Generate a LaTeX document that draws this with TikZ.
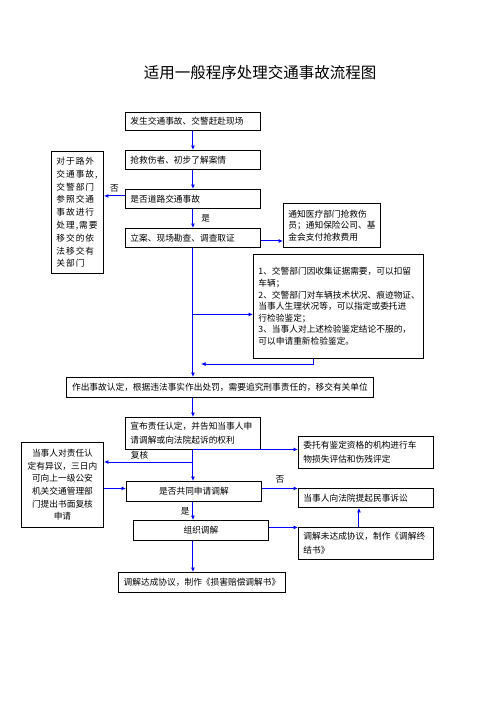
\documentclass[tikz,border=0pt]{standalone}
\usepackage{fontspec}
\usetikzlibrary{arrows.meta}
\newfontfamily\cjk{Noto Sans CJK SC}
\newfontfamily\cjkwide[LetterSpace=11]{Noto Sans CJK SC}
\tikzset{
  stepbox/.style={draw=black, line width=0.9pt, inner sep=0pt, inner xsep=5pt,
    anchor=north west, align=left, font=\cjk\fontsize{8.7}{12}\selectfont},
  flow/.style={draw=blue, line width=1pt, -{Latex[length=4.5pt,width=4pt]}},
  tag/.style={inner sep=0pt, font=\cjk\fontsize{8.7}{10}\selectfont},
}
\begin{document}
\begin{tikzpicture}[y=1pt, x=1pt, yscale=-1]
\useasboundingbox[fill=white] (0,0) rectangle (496,702);
\node[font=\cjk\fontsize{15.5}{18}\selectfont] (title) at (260,73) {适用一般程序处理交通事故流程图};

% main column
\node[stepbox, text width=125pt, minimum height=18pt] (scene) at (125,112) {发生交通事故、交警赶赴现场};
\node[stepbox, text width=125pt, minimum height=19pt] (rescue) at (125,150) {抢救伤者、初步了解案情};
\node[stepbox, text width=125pt, minimum height=19pt] (road) at (125,189) {是否道路交通事故};
\node[stepbox, text width=125pt, minimum height=19pt] (filecase) at (125,228) {立案、现场勘查、调查取证};
\node[stepbox, text width=42pt, minimum height=122pt, inner xsep=5pt,
  font=\cjkwide\fontsize{8.7}{12.8}\selectfont] (offroad) at (51,151)
  {对于路外\\交通事故,\\交警部门\\参照交通\\事故进行\\处理,需要\\移交的依\\法移交有\\关部门};
\node[stepbox, text width=87pt, minimum height=44pt,
  font=\cjk\fontsize{8.7}{11.7}\selectfont] (notify) at (283,203)
  {通知医疗部门抢救伤\\员；通知保险公司、基\\金会支付抢救费用};
\node[stepbox, text width=160pt, minimum height=104pt,
  font=\cjk\fontsize{8.7}{11.6}\selectfont] (evidence) at (253,254)
  {1、交警部门因收集证据需要，可以扣留\\车辆；\\2、交警部门对车辆技术状况、痕迹物证、\\当事人生理状况等，可以指定或委托进\\行检验鉴定；\\3、当事人对上述检验鉴定结论不服的，\\可以申请重新检验鉴定。};
\node[stepbox, text width=297pt, minimum height=20pt, align=center] (liability) at (66,377)
  {作出事故认定，根据违法事实作出处罚，需要追究刑事责任的，移交有关单位};
\node[stepbox, text width=125pt, minimum height=32pt,
  font=\cjk\fontsize{8.7}{14}\selectfont] (announce) at (125,417)
  {宣布责任认定，并告知当事人申\\请调解或向法院起诉的权利};
\node[stepbox, text width=72pt, minimum height=85pt, align=center,
  font=\cjk\fontsize{8.7}{12.6}\selectfont] (review) at (21,442)
  {当事人对责任认\\定有异议，三日内\\可向上一级公安\\机关交通管理部\\门提出书面复核\\申请};
\node[stepbox, text width=125pt, minimum height=32pt,
  font=\cjk\fontsize{8.7}{14}\selectfont] (appraisal) at (298,436)
  {委托有鉴定资格的机构进行车\\物损失评估和伤残评定};
\node[stepbox, text width=125pt, minimum height=20pt, align=center] (jointly) at (126,481) {是否共同申请调解};
\node[stepbox, text width=125pt, minimum height=19pt] (lawsuit) at (298,488) {当事人向法院提起民事诉讼};
\node[stepbox, text width=125pt, minimum height=20pt, align=center] (organize) at (133,520) {组织调解};
\node[stepbox, text width=125pt, minimum height=32pt,
  font=\cjk\fontsize{8.7}{14}\selectfont] (fail) at (298,527)
  {调解未达成协议，制作《调解终\\结书》};
\node[stepbox, text width=157pt, minimum height=20pt, align=center] (agree) at (118,572)
  {调解达成协议，制作《损害赔偿调解书》};

% connectors
\draw[flow] (scene) -- (rescue);
\draw[flow] (rescue) -- (road);
\draw[flow] ([yshift=-3pt]road.west) -- ([yshift=-3pt]road.west -| offroad.east)
  node[tag, midway, above=3pt] (no1) {否};
\draw[flow] (road) -- (filecase) node[tag, midway, right=8pt] (yes1) {是};
\draw[flow] ([yshift=3pt]filecase.east) -- ([yshift=3pt]filecase.east -| notify.west);
\draw[flow] (filecase.south) |- ([yshift=8pt]evidence.west);
\draw[flow] (filecase.south) -- (filecase.south |- liability.north);
\coordinate (join) at (201,364);
\draw[flow] ([xshift=-25pt]evidence.south) |- (join);
\draw[flow] (announce.north |- liability.south) -- (announce.north);
\draw[flow] (announce.south) -- (announce.south |- jointly.north);
\draw[flow] ([yshift=-3pt]appraisal.west -| announce.south) -- ([yshift=-3pt]appraisal.west);
\coordinate (fork) at (announce.south |- 0,462);
\draw[flow] (fork) -- (fork -| review.east) node[tag, pos=0.6, above=2pt] (recheck) {复核};
\draw[flow] ([yshift=-3pt]jointly.west -| review.east) -- ([yshift=-3pt]jointly.west);
\draw[flow] ([yshift=-3pt]jointly.east) -- ([yshift=-3pt]jointly.east -| lawsuit.west)
  node[tag, midway, above=5pt] (no2) {否};
\draw[flow] (announce.south |- jointly.south) -- (announce.south |- organize.north)
  node[tag, midway, left=3pt] (yes2) {是};
\draw[flow] ([yshift=-3pt]organize.east) -- ([yshift=-3pt]organize.east -| fail.west);
\draw[flow] ([xshift=-7pt]fail.north) -- ([xshift=-7pt]lawsuit.south);
\draw[flow] (announce.south |- organize.south) -- (announce.south |- agree.north);
\end{tikzpicture}
\end{document}
